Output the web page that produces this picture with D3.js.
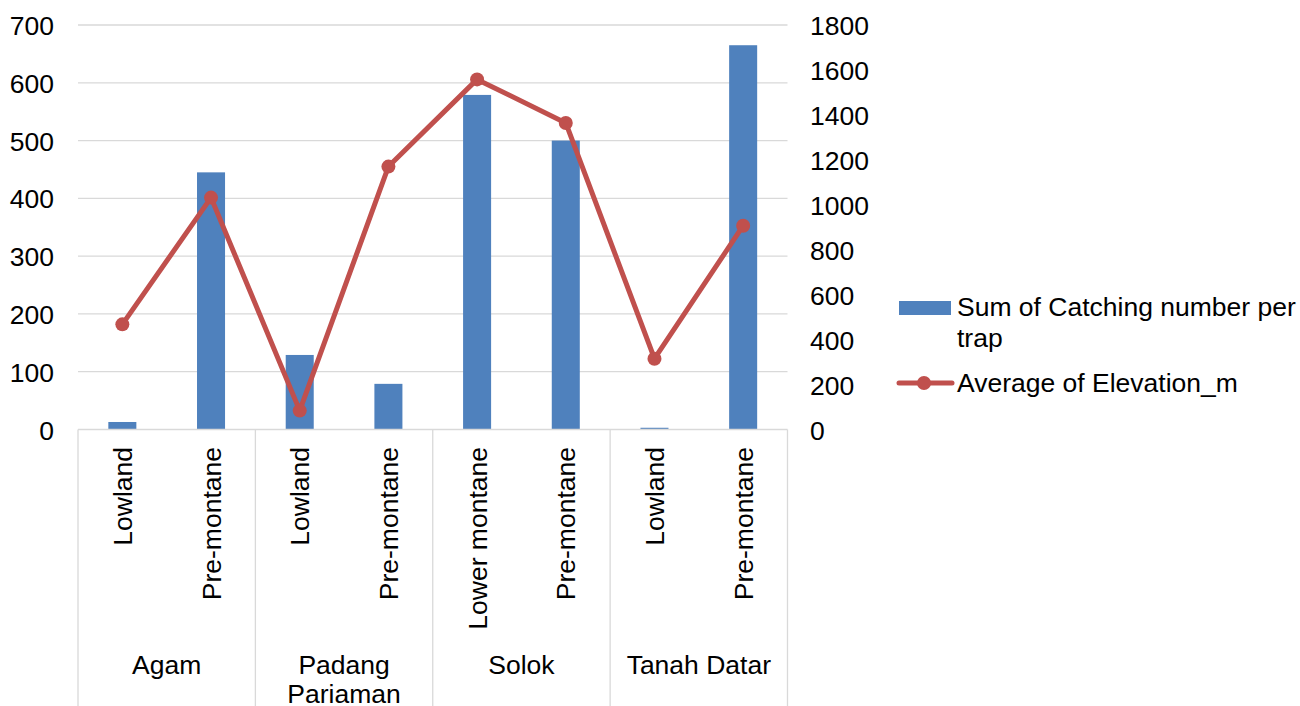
<!DOCTYPE html>
<html>
<head>
<meta charset="utf-8">
<script src="https://cdn.jsdelivr.net/npm/d3@7"></script>
<style>
  html, body { margin: 0; padding: 0; background: #fff; }
  svg { display: block; font-family: "Liberation Sans", Arial, sans-serif; }
</style>
</head>
<body>
<svg id="chart" width="1300" height="706"></svg>
<script>
// Districts and their altitude classes (two-level category axis)
const districts = ["Agam", "Padang Pariaman", "Solok", "Tanah Datar"];
const districtLines = [["Agam"], ["Padang", "Pariaman"], ["Solok"], ["Tanah Datar"]];
const zones = [
  ["Lowland", "Pre-montane"],
  ["Lowland", "Pre-montane"],
  ["Lower montane", "Pre-montane"],
  ["Lowland", "Pre-montane"]
];
// Series values, in category order
const catchingPerTrap = [13, 445, 129, 79, 579, 500, 3, 665];
const elevationM = [468, 1032, 84, 1170, 1558, 1364, 315, 907];
// Axis ticks
const leftTicks = [0, 100, 200, 300, 400, 500, 600, 700];
const rightTicks = [0, 200, 400, 600, 800, 1000, 1200, 1400, 1600, 1800];

const rows = [];
districts.forEach((d, i) => zones[i].forEach(z => rows.push({ district: d, zone: z, key: d + "|" + z })));
rows.forEach((r, i) => { r.catching = catchingPerTrap[i]; r.elevation = elevationM[i]; });

const svg = d3.select("#chart");
const plotL = 78, plotR = 787.5, plotT = 25, plotB = 429.5;
const font = 26.5;

const x = d3.scaleBand().domain(rows.map(r => r.key)).range([plotL, plotR])
  .paddingInner(0.684).paddingOuter(0.342);
const step = x.step();
const cx = k => x(k) + x.bandwidth() / 2;
const yL = d3.scaleLinear().domain([0, 700]).range([plotB, plotT]);
const yR = d3.scaleLinear().domain([0, 1800]).range([plotB, plotT]);

// Horizontal gridlines
svg.append("g")
  .selectAll("line").data(leftTicks.filter(t => t > 0)).join("line")
  .attr("x1", plotL).attr("x2", plotR)
  .attr("y1", d => yL(d)).attr("y2", d => yL(d))
  .attr("stroke", "#d9d9d9").attr("stroke-width", 1.3);

// Left value axis
const gL = svg.append("g").attr("transform", `translate(${plotL},0)`)
  .call(d3.axisLeft(yL).tickValues(leftTicks).tickFormat(d3.format("d")).tickSize(0).tickPadding(24));
gL.select(".domain").remove();
gL.selectAll("text").attr("font-size", font).attr("fill", "#000")
  .attr("font-family", "Liberation Sans, Arial, sans-serif").attr("dy", "0.36em");

// Right value axis
const gR = svg.append("g").attr("transform", `translate(${plotR},0)`)
  .call(d3.axisRight(yR).tickValues(rightTicks).tickFormat(d3.format("d")).tickSize(0).tickPadding(22.5));
gR.select(".domain").remove();
gR.selectAll("text").attr("font-size", font).attr("fill", "#000")
  .attr("font-family", "Liberation Sans, Arial, sans-serif").attr("dy", "0.36em");

// Bars
svg.append("g").selectAll("rect").data(rows).join("rect")
  .attr("x", d => x(d.key)).attr("width", x.bandwidth())
  .attr("y", d => yL(d.catching)).attr("height", d => yL(0) - yL(d.catching))
  .attr("fill", "#4f81bd");

// Category axis line and group separators
const axisG = svg.append("g");
axisG.append("line").attr("x1", plotL).attr("x2", plotR)
  .attr("y1", plotB).attr("y2", plotB)
  .attr("stroke", "#d9d9d9").attr("stroke-width", 1.3);
const sepX = [plotL];
districts.forEach((d, i) => sepX.push(plotL + step * 2 * (i + 1)));
axisG.selectAll("line.sep").data(sepX).join("line").attr("class", "sep")
  .attr("x1", d => d).attr("x2", d => d).attr("y1", plotB).attr("y2", 706)
  .attr("stroke", "#d9d9d9").attr("stroke-width", 1.3);

// Rotated altitude-class labels
axisG.selectAll("text.zone").data(rows).join("text").attr("class", "zone")
  .attr("transform", d => `translate(${cx(d.key)},447) rotate(-90)`)
  .attr("text-anchor", "end").attr("dy", "0.36em")
  .attr("font-size", font).attr("fill", "#000")
  .text(d => d.zone);

// District labels
districts.forEach((d, i) => {
  const mid = plotL + step * (2 * i + 1);
  const t = axisG.append("text").attr("text-anchor", "middle")
    .attr("font-size", font).attr("fill", "#000");
  districtLines[i].forEach((ln, j) => {
    t.append("tspan").attr("x", mid).attr("y", 674 + j * 28.5).text(ln);
  });
});

// Elevation line with markers
const line = d3.line().x(d => cx(d.key)).y(d => yR(d.elevation));
svg.append("path").datum(rows).attr("d", line)
  .attr("fill", "none").attr("stroke", "#c0504d").attr("stroke-width", 5)
  .attr("stroke-linejoin", "round").attr("stroke-linecap", "round");
svg.append("g").selectAll("circle").data(rows).join("circle")
  .attr("cx", d => cx(d.key)).attr("cy", d => yR(d.elevation)).attr("r", 7)
  .attr("fill", "#c0504d");

// Legend
const lg = svg.append("g");
lg.append("rect").attr("x", 899).attr("y", 301).attr("width", 52).attr("height", 14).attr("fill", "#4f81bd");
const lt = lg.append("text").attr("font-size", font).attr("fill", "#000");
lt.append("tspan").attr("x", 957).attr("y", 316).text("Sum of Catching number per");
lt.append("tspan").attr("x", 957).attr("y", 347).text("trap");
lg.append("line").attr("x1", 899).attr("x2", 952).attr("y1", 383).attr("y2", 383)
  .attr("stroke", "#c0504d").attr("stroke-width", 5).attr("stroke-linecap", "round");
lg.append("circle").attr("cx", 924).attr("cy", 383).attr("r", 7).attr("fill", "#c0504d");
lg.append("text").attr("x", 957).attr("y", 392).attr("font-size", font).attr("fill", "#000")
  .text("Average of Elevation_m");
</script>
</body>
</html>
